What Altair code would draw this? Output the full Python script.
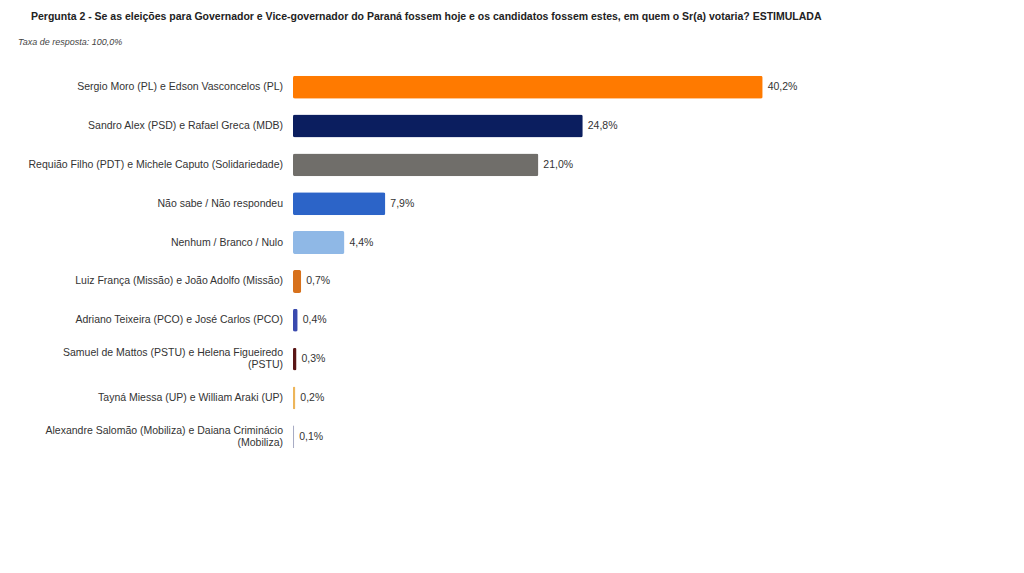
import altair as alt
import pandas as pd

categories = [
    "Sergio Moro (PL) e Edson Vasconcelos (PL)",
    "Sandro Alex (PSD) e Rafael Greca (MDB)",
    "Requião Filho (PDT) e Michele Caputo (Solidariedade)",
    "Não sabe / Não respondeu",
    "Nenhum / Branco / Nulo",
    "Luiz França (Missão) e João Adolfo (Missão)",
    "Adriano Teixeira (PCO) e José Carlos (PCO)",
    "Samuel de Mattos (PSTU) e Helena Figueiredo|(PSTU)",
    "Tayná Miessa (UP) e William Araki (UP)",
    "Alexandre Salomão (Mobiliza) e Daiana Criminácio|(Mobiliza)",
]
values = [40.2, 24.8, 21.0, 7.9, 4.4, 0.7, 0.4, 0.3, 0.2, 0.1]
colors = ["#FF7A00", "#0B1E5F", "#706E6A", "#2C64C8", "#8FB8E6",
          "#D7711C", "#3A4AAE", "#5A1616", "#EDB55A", "#A8ACC4"]

title_text = ("Pergunta 2 - Se as eleições para Governador e Vice-governador do Paraná "
              "fossem hoje e os candidatos fossem estes, em quem o Sr(a) votaria? ESTIMULADA")
subtitle_text = "Taxa de resposta: 100,0%"

df = pd.DataFrame({"cat": categories, "v": values, "color": colors})

FONT = "Liberation Sans"

y_enc = alt.Y(
    "cat:N", sort=categories, title=None,
    scale=alt.Scale(paddingInner=0.41, paddingOuter=0.2),
    axis=None,
)
y_plain = alt.Y("cat:N", sort=categories)
x_enc = alt.X("v:Q", title=None, scale=alt.Scale(domain=[0, 60]), axis=None)

bars = alt.Chart(df).mark_bar(cornerRadius=2).encode(
    x=x_enc, y=y_enc,
    color=alt.Color("color:N", scale=None, legend=None),
)

label_style = dict(align="right", baseline="middle", lineBreak="|", lineHeight=12,
                   font=FONT, fontSize=10.5, color="#333333")

cat_single = alt.Chart(df).transform_filter(
    "indexof(datum.cat, '|') < 0"
).mark_text(**label_style).encode(x=alt.value(-10), y=y_plain, text="cat:N")

cat_double = alt.Chart(df).transform_filter(
    "indexof(datum.cat, '|') >= 0"
).mark_text(dy=-6, **label_style).encode(x=alt.value(-10), y=y_plain, text="cat:N")

texts = alt.Chart(df).transform_calculate(
    lbl="replace(format(datum.v, '.1f'), '.', ',') + '%'"
).mark_text(align="left", dx=5, font=FONT, fontSize=10.5, color="#333333").encode(
    x=x_enc, y=y_plain, text="lbl:N"
)

title = alt.Chart(pd.DataFrame({"t": [title_text]})).mark_text(
    align="left", baseline="middle", font=FONT, fontSize=10.5, fontWeight="bold", color="#222222"
).encode(x=alt.value(-262), y=alt.value(-51), text="t:N")

sub = alt.Chart(pd.DataFrame({"t": [subtitle_text]})).mark_text(
    align="left", baseline="middle", font=FONT, fontSize=9, fontStyle="italic", color="#444444"
).encode(x=alt.value(-275), y=alt.value(-26), text="t:N")

chart = alt.layer(bars, cat_single, cat_double, texts, title, sub).properties(
    width=701, height=388,
    padding={"left": 285, "top": 60, "right": 10, "bottom": 80},
    autosize=alt.AutoSizeParams(type="none"),
    background="white",
).configure_view(stroke=None)

chart.save("out.html", embed_options={"renderer": "svg", "actions": False})
